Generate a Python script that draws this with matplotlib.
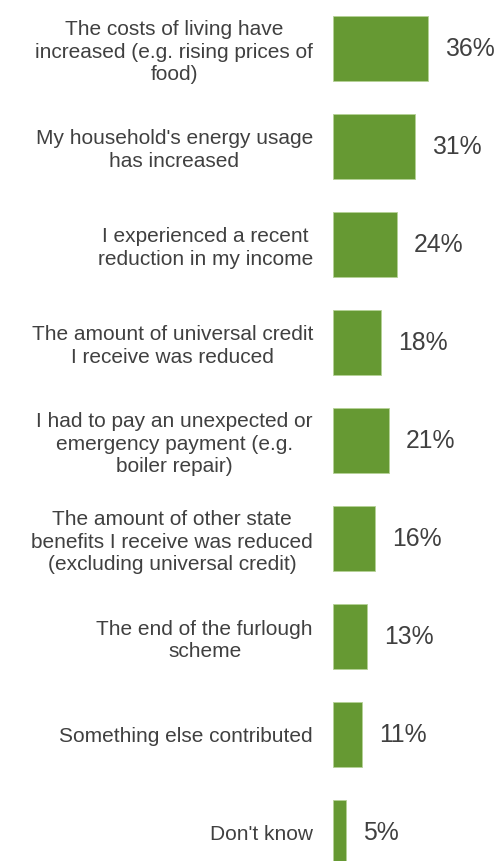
# -*- coding: utf-8 -*-

import matplotlib
matplotlib.use("Agg")
import matplotlib.pyplot as plt

plt.rcParams['font.family'] = ['Liberation Sans', 'DejaVu Sans']

# Reasons for the change, top to bottom
reasons = [
    "The costs of living have\nincreased (e.g. rising prices of\nfood)",
    "My household's energy usage\nhas increased",
    "I experienced a recent\nreduction in my income",
    "The amount of universal credit\nI receive was reduced",
    "I had to pay an unexpected or\nemergency payment (e.g.\nboiler repair)",
    "The amount of other state\nbenefits I receive was reduced\n(excluding universal credit)",
    "The end of the furlough\nscheme",
    "Something else contributed",
    "Don't know",
]
shares = [36, 31, 24, 18, 21, 16, 13, 11, 5]

green = "#669933"
grey = "#404040"

W, H, dpi = 502, 861, 100
fig = plt.figure(figsize=(W / dpi, H / dpi), dpi=dpi)

# axes start where the bars start; labels hang off the left edge
left = 333
ax = fig.add_axes([left / W, 0, (W - left) / W, 1])

pitch = 98.0
first = 48.5
ax.set_ylim((H - first) / pitch, -first / pitch)
ax.set_xlim(0, (W - left) / 2.65)

pos = list(range(len(reasons)))
bars = ax.barh(pos, shares, height=65 / pitch, color=green,
               edgecolor="#b5d196", linewidth=0.6)

ax.bar_label(bars, labels=[f"{v}%" for v in shares], padding=12.2,
             fontsize=17.8, color=grey)

ax.set_yticks(pos)
ax.set_yticklabels(reasons, fontsize=15, color=grey, linespacing=1.22)
for t in ax.get_yticklabels():
    t.set_multialignment("center")
ax.tick_params(axis="y", length=0, pad=14.4)
ax.set_xticks([])
for s in ax.spines.values():
    s.set_visible(False)

fig.savefig("out.png", dpi=dpi, facecolor="white")
